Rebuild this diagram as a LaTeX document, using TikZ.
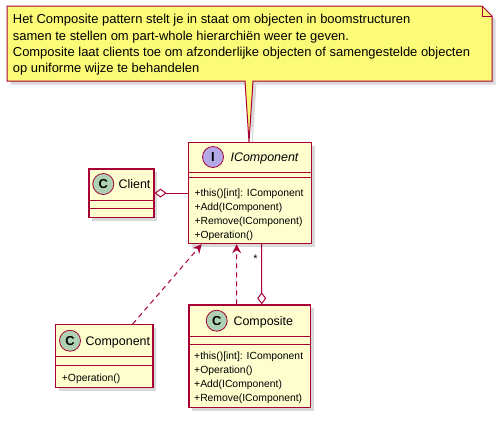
\documentclass[tikz,border=0pt]{standalone}
\usepackage{fontspec}
\setmainfont{Liberation Sans}
\usetikzlibrary{arrows.meta,shadows,calc}
\definecolor{umlborder}{HTML}{A80036}
\definecolor{umlfill}{HTML}{FEFECE}
\definecolor{notefill}{HTML}{FBFB77}
\definecolor{cbadge}{HTML}{ADD1B2}
\definecolor{ibadge}{HTML}{B4A7E5}
\begin{document}
\begin{tikzpicture}[x=1bp,y=-1bp,
  shad/.style={drop shadow={shadow xshift=3.5bp,shadow yshift=-3.5bp,fill=black,opacity=0.15}},
  classbox/.style={draw=umlborder,fill=umlfill,line width=1.2bp,inner sep=0,anchor=north west,shad},
  sepline/.style={draw=umlborder,line width=1bp},
  badge/.style={circle,draw=umlborder,line width=0.8bp,minimum size=21bp,inner sep=0,font=\fontsize{13}{13}\selectfont\bfseries},
  cname/.style={anchor=base,inner sep=0,font=\fontsize{12.5}{14}\selectfont},
  member/.style={anchor=base west,inner sep=0,font=\fontsize{10.4}{12}\selectfont},
  conn/.style={draw=umlborder,line width=1bp},
  dep/.style={conn,dash pattern=on 5bp off 4bp,-{Stealth[length=9bp,width=9bp,inset=3bp,umlborder]}},
  agg/.style={conn,{Diamond[length=12bp,width=9bp,fill=white,umlborder]}-},
  notetext/.style={anchor=north west,inner sep=0,align=left,font=\fontsize{13}{16.2}\selectfont},
]
\useasboundingbox (0,0) rectangle (498,420);
% note
\fill[black,opacity=0.15,shift={(3.5,3.5)}] (7,6) -- (482,6) -- (492,16) -- (492,81) -- (253,81) -- (249,142) -- (245,81) -- (7,81) -- cycle;
\draw[fill=notefill,draw=umlborder,line width=1bp] (7,6) -- (482,6) -- (492,16) -- (492,81) -- (253,81) -- (249,142) -- (245,81) -- (7,81) -- cycle;
\draw[draw=umlborder,line width=1bp] (482,6) -- (482,16) -- (492,16);
\node[notetext] (note) at (12.7,14.3) {Het Composite pattern stelt je in staat om objecten in boomstructuren\\samen te stellen om part-whole hierarchiën weer te geven.\\Composite laat clients toe om afzonderlijke objecten of samengestelde objecten\\op uniforme wijze te behandelen};

% IComponent
\node[classbox,minimum width=123bp,minimum height=101.3bp] (icomp) at (187.7,141.7) {};
\draw[sepline] (187.7,172.3) -- (310.7,172.3);
\draw[sepline] (187.7,177.7) -- (310.7,177.7);
\node[badge,fill=ibadge] (icompB) at (213,157) {I};
\node[cname,font=\fontsize{12.5}{14}\selectfont\itshape] (icompN) at (264.5,161.7) {IComponent};
\node[member] (icm1) at (194.3,196) {+this()[int]: IComponent};
\node[member] (icm2) at (194.3,210) {+Add(IComponent)};
\node[member] (icm3) at (194.3,224) {+Remove(IComponent)};
\node[member] (icm4) at (194.3,238) {+Operation()};

% Client
\node[classbox,minimum width=65bp,minimum height=48.4bp] (client) at (88.3,168.3) {};
\draw[sepline] (88.3,200) -- (153.3,200);
\draw[sepline] (88.3,208.3) -- (153.3,208.3);
\node[badge,fill=cbadge] (clientB) at (103.3,184) {C};
\node[cname] (clientN) at (134.5,188.5) {Client};

% Component
\node[classbox,minimum width=97.3bp,minimum height=62.7bp] (component) at (55,324) {};
\draw[sepline] (55,356.7) -- (152.3,356.7);
\draw[sepline] (55,365) -- (152.3,365);
\node[badge,fill=cbadge] (componentB) at (70,340.7) {C};
\node[cname] (componentN) at (117.9,345.2) {Component};
\node[member] (cm1) at (61.7,381) {+Operation()};

% Composite
\node[classbox,minimum width=121.7bp,minimum height=102.4bp] (composite) at (188.3,304.3) {};
\draw[sepline] (188.3,336.7) -- (310,336.7);
\draw[sepline] (188.3,344) -- (310,344);
\node[badge,fill=cbadge] (compositeB) at (216.7,320.7) {C};
\node[cname] (compositeN) at (263.3,325.2) {Composite};
\node[member] (csm1) at (194,359) {+this()[int]: IComponent};
\node[member] (csm2) at (194,373) {+Operation()};
\node[member] (csm3) at (194,387) {+Add(IComponent)};
\node[member] (csm4) at (194,401) {+Remove(IComponent)};

% connectors
\draw[agg] (client.east) -- (client.east -| icomp.west);
\draw[dep] ($(component.north west)+(77.7,0)$) -- ($(icomp.south west)+(14,0)$);
\draw[dep] ($(composite.north west)+(48.4,0)$) -- ($(icomp.south west)+(49,0)$);
\draw[agg] ($(composite.north west)+(73.4,0)$) -- ($(icomp.south west)+(74,0)$);
\node[inner sep=0,font=\fontsize{11}{12}\selectfont] (star) at (255.5,259) {*};
\end{tikzpicture}
\end{document}
